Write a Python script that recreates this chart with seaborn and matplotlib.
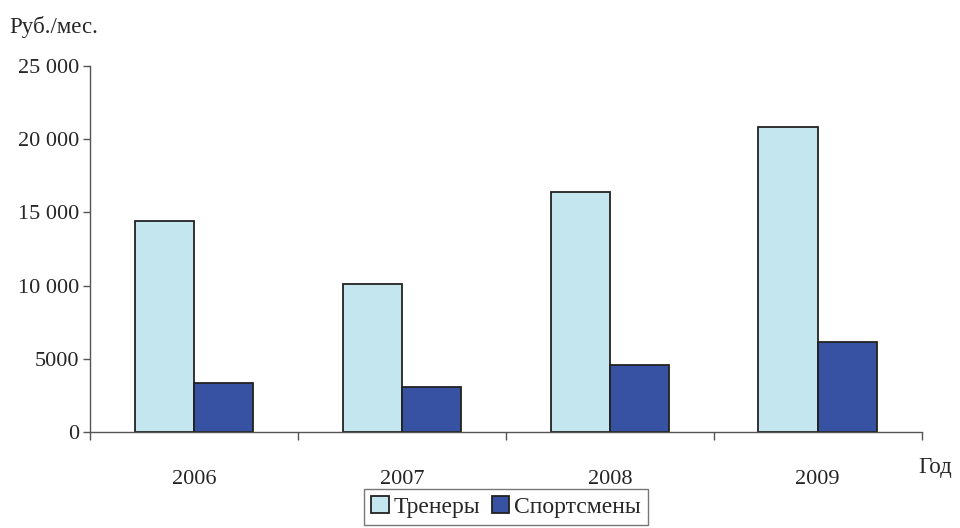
import pandas as pd
import matplotlib.pyplot as plt
import seaborn as sns
from matplotlib.ticker import FuncFormatter, MultipleLocator

years = ["2006", "2007", "2008", "2009"]
coaches = [14400, 10100, 16400, 20800]
athletes = [3350, 3100, 4550, 6150]
series_names = ["Тренеры", "Спортсмены"]
colors = ["#C3E6EF", "#3752A3"]

df = pd.DataFrame({
    "year": years * 2,
    "value": coaches + athletes,
    "group": [series_names[0]] * 4 + [series_names[1]] * 4,
})

sns.set_style("white")
plt.rcParams["font.family"] = ["Liberation Serif", "DejaVu Serif"]

fig = plt.figure(figsize=(9.6, 5.28), dpi=100)
ax = fig.add_axes([0.094, 0.182, 0.866, 0.693])

sns.barplot(data=df, x="year", y="value", hue="group", palette=colors,
            saturation=1, width=0.57, edgecolor="#222222", linewidth=1.3,
            ax=ax)

ax.set_xlim(-0.5, 3.5)
ax.set_ylim(0, 25000)
ax.yaxis.set_major_locator(MultipleLocator(5000))


def fmt(v, pos):
    v = int(v)
    if v >= 10000:
        return f"{v:,}".replace(",", " ")
    return str(v)


ax.yaxis.set_major_formatter(FuncFormatter(fmt))
ax.set_xlabel("")
ax.set_ylabel("")

for side in ["top", "right"]:
    ax.spines[side].set_visible(False)
for side in ["left", "bottom"]:
    ax.spines[side].set_color("#555555")
    ax.spines[side].set_linewidth(1.0)

ax.tick_params(axis="y", which="major", left=True, length=5, width=1,
               color="#555555", labelsize=16, pad=3)
ax.tick_params(axis="x", which="major", bottom=False, labelsize=16, pad=24)
ax.set_xticks([-0.5, 0.5, 1.5, 2.5, 3.5], minor=True)
ax.tick_params(axis="x", which="minor", bottom=True, length=6, width=1,
               color="#555555")

fig.text(0.010, 0.948, "Руб./мес.", fontsize=16.5, va="center", ha="left")
fig.text(0.957, 0.115, "Год", fontsize=16.5, va="center", ha="left")

handles, labels = ax.get_legend_handles_labels()
ax.legend(handles, labels, loc="upper center", bbox_to_anchor=(0.5, -0.155),
          ncol=2, frameon=True, fancybox=False, edgecolor="#555555",
          fontsize=17, handlelength=0.75, handleheight=0.75,
          handletextpad=0.2, columnspacing=0.5, borderpad=0.3,
          borderaxespad=0)
ax.get_legend().get_frame().set_linewidth(1.0)

plt.savefig("out.png", dpi=100)
